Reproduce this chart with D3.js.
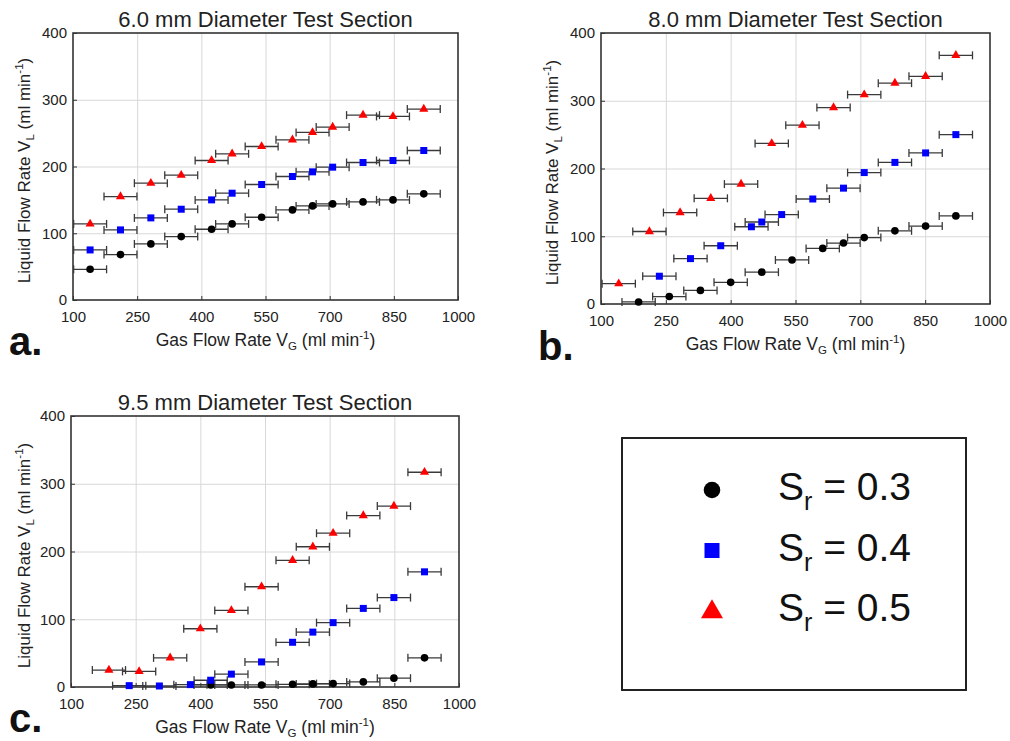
<!DOCTYPE html>
<html>
<head>
<meta charset="utf-8">
<script src="https://cdn.jsdelivr.net/npm/d3@7"></script>
<style>
  body { margin: 0; background: #fff; }
  svg { font-family: "Liberation Sans", Arial, Helvetica, sans-serif; }
</style>
</head>
<body>
<div id="chart"></div>
<script>
// tick values shared by all three panels
const xTicks = [100, 250, 400, 550, 700, 850, 1000];
const yTicks = [0, 100, 200, 300, 400];
const xError = 38.5; // half width of the horizontal error bars (ml/min)

// 6.0 mm test section
const a_x = [140, 211, 282, 353, 424, 472, 541, 613, 660, 707, 778, 848, 920];
const a_s03 = [46, 68, 84, 95, 106, 114, 124, 135, 141, 144, 147, 150, 159];
const a_s04 = [75, 105, 123, 136, 150, 160, 173, 185, 192, 199, 206, 209, 224];
const a_s05 = [114, 155, 175, 187, 209, 219, 230, 240, 251, 259, 277, 275, 286];

// 8.0 mm test section
const b_x03 = [187, 258, 330, 400, 472, 542, 613, 661, 709, 780, 851, 921];
const b_s03 = [3, 11, 20, 32, 47, 65, 82, 90, 98, 108, 115, 130];
const b_x04 = [235, 307, 377, 448, 472, 518, 590, 661, 709, 780, 851, 921];
const b_s04 = [41, 67, 86, 114, 121, 132, 155, 171, 194, 209, 223, 250];
const b_x05 = [141, 212, 283, 354, 424, 495, 566, 638, 709, 780, 851, 921];
const b_s05 = [30, 107, 135, 156, 177, 237, 264, 290, 309, 326, 336, 367];

// 9.5 mm test section
const c_x03 = [424, 472, 542, 614, 661, 708, 778, 849, 920];
const c_s03 = [3, 3, 3, 4, 4.5, 5, 7.5, 13, 43];
const c_x04 = [235, 305, 377, 424, 472, 542, 614, 661, 708, 778, 849, 920];
const c_s04 = [2, 1.5, 3.5, 10, 19, 37, 66, 81, 95, 116, 132, 170];
const c_x05 = [188, 258, 330, 400, 472, 542, 614, 661, 708, 778, 849, 920];
const c_s05 = [25, 23, 43, 86, 113, 148, 187, 207, 227, 253, 267, 317];

const legendLabels = ["0.3", "0.4", "0.5"];

const series = [
  { type: d3.symbolCircle, color: "#000000", size: 46, legendSize: 216 },
  { type: d3.symbolSquare, color: "#0000ff", size: 49, legendSize: 225 },
  { type: d3.symbolTriangle, color: "#ff0000", size: 36, legendSize: 210 },
];

const zip = (xs, ys) => xs.map((x, i) => ({ x: x, y: ys[i] }));

const panels = [
  {
    title: "6.0 mm Diameter Test Section", letter: "a.",
    left: 73, top: 33, right: 458, bottom: 300,
    letterX: 9, letterY: 355, yLabelX: 30,
    data: [zip(a_x, a_s03), zip(a_x, a_s04), zip(a_x, a_s05)],
  },
  {
    title: "8.0 mm Diameter Test Section", letter: "b.",
    left: 601, top: 33, right: 990, bottom: 304,
    letterX: 538, letterY: 360, yLabelX: 558,
    data: [zip(b_x03, b_s03), zip(b_x04, b_s04), zip(b_x05, b_s05)],
  },
  {
    title: "9.5 mm Diameter Test Section", letter: "c.",
    left: 71, top: 416, right: 459, bottom: 687,
    letterX: 9, letterY: 732, yLabelX: 30,
    data: [zip(c_x03, c_s03), zip(c_x04, c_s04), zip(c_x05, c_s05)],
  },
];

const svg = d3.select("#chart").append("svg")
  .attr("width", 1010)
  .attr("height", 741);

function drawPanel(p) {
  const x = d3.scaleLinear().domain([100, 1000]).range([p.left, p.right]);
  const y = d3.scaleLinear().domain([0, 400]).range([p.bottom, p.top]);
  const w = p.right - p.left, h = p.bottom - p.top;
  const g = svg.append("g");

  // grid
  g.append("g")
    .attr("transform", `translate(0,${p.bottom})`)
    .call(d3.axisBottom(x).tickValues(xTicks.slice(1, -1)).tickSize(-h).tickFormat(""))
    .call((s) => s.select(".domain").remove())
    .selectAll("line").attr("stroke", "#d8d8d8").attr("stroke-width", 1);
  g.append("g")
    .attr("transform", `translate(${p.left},0)`)
    .call(d3.axisLeft(y).tickValues(yTicks.slice(1, -1)).tickSize(-w).tickFormat(""))
    .call((s) => s.select(".domain").remove())
    .selectAll("line").attr("stroke", "#d8d8d8").attr("stroke-width", 1);

  // axes with inward ticks
  const xAxis = g.append("g")
    .attr("transform", `translate(0,${p.bottom})`)
    .call(d3.axisBottom(x).tickValues(xTicks).tickFormat(d3.format("d"))
      .tickSizeInner(-4).tickSizeOuter(0).tickPadding(11));
  const yAxis = g.append("g")
    .attr("transform", `translate(${p.left},0)`)
    .call(d3.axisLeft(y).tickValues(yTicks).tickFormat(d3.format("d"))
      .tickSizeInner(-4).tickSizeOuter(0).tickPadding(6));
  [xAxis, yAxis].forEach((ax) => {
    ax.select(".domain").remove();
    ax.selectAll("line").attr("stroke", "#333");
    ax.selectAll("text").attr("font-size", 15).attr("fill", "#222")
      .attr("font-family", "'Liberation Sans', Arial, sans-serif");
  });

  // frame
  g.append("rect")
    .attr("x", p.left).attr("y", p.top)
    .attr("width", w).attr("height", h)
    .attr("fill", "none").attr("stroke", "#333").attr("stroke-width", 1.6);

  // title
  g.append("text")
    .attr("x", (p.left + p.right) / 2).attr("y", p.top - 6)
    .attr("text-anchor", "middle").attr("font-size", 22).attr("fill", "#222")
    .text(p.title);

  // x label
  const xl = g.append("text")
    .attr("x", (p.left + p.right) / 2).attr("y", p.bottom + 46)
    .attr("text-anchor", "middle").attr("font-size", 17.5).attr("fill", "#222");
  xl.append("tspan").text("Gas Flow Rate V");
  xl.append("tspan").attr("font-size", 11.5).attr("dy", 4).text("G");
  xl.append("tspan").attr("dy", -4).text(" (ml min");
  xl.append("tspan").attr("font-size", 11.5).attr("dy", -7).text("-1");
  xl.append("tspan").attr("dy", 7).text(")");

  // y label
  const yl = g.append("text")
    .attr("transform", `translate(${p.yLabelX},${(p.top + p.bottom) / 2 + 4}) rotate(-90)`)
    .attr("text-anchor", "middle").attr("font-size", 17).attr("fill", "#222");
  yl.append("tspan").text("Liquid Flow Rate V");
  yl.append("tspan").attr("font-size", 11.5).attr("dy", 4).text("L");
  yl.append("tspan").attr("dy", -4).text(" (ml min");
  yl.append("tspan").attr("font-size", 11.5).attr("dy", -7).text("-1");
  yl.append("tspan").attr("dy", 7).text(")");

  // panel letter
  g.append("text")
    .attr("x", p.letterX).attr("y", p.letterY)
    .attr("font-size", 40).attr("font-weight", "bold").attr("fill", "#111")
    .text(p.letter);

  // series: error bars then markers
  p.data.forEach((pts, i) => {
    const s = series[i];
    const sg = g.append("g");
    const bars = sg.selectAll(".err").data(pts).join("g").attr("class", "err")
      .attr("stroke", "#3a3a3a").attr("stroke-width", 1.3);
    bars.append("line")
      .attr("x1", (d) => x(d.x - xError)).attr("x2", (d) => x(d.x + xError))
      .attr("y1", (d) => y(d.y)).attr("y2", (d) => y(d.y));
    bars.append("line")
      .attr("x1", (d) => x(d.x - xError)).attr("x2", (d) => x(d.x - xError))
      .attr("y1", (d) => y(d.y) - 4).attr("y2", (d) => y(d.y) + 4);
    bars.append("line")
      .attr("x1", (d) => x(d.x + xError)).attr("x2", (d) => x(d.x + xError))
      .attr("y1", (d) => y(d.y) - 4).attr("y2", (d) => y(d.y) + 4);

    sg.selectAll(".mk").data(pts).join("path").attr("class", "mk")
      .attr("d", d3.symbol().type(s.type).size(s.size))
      .attr("transform", (d) => `translate(${x(d.x)},${y(d.y)})`)
      .attr("fill", s.color);
  });
}

panels.forEach(drawPanel);

// legend
const lg = svg.append("g");
lg.append("rect")
  .attr("x", 622).attr("y", 438).attr("width", 344).attr("height", 252)
  .attr("fill", "#fff").attr("stroke", "#222").attr("stroke-width", 2);

const ly = d3.scalePoint().domain(legendLabels).range([490, 611]);
legendLabels.forEach((lab, i) => {
  lg.append("path")
    .attr("d", d3.symbol().type(series[i].type).size(series[i].legendSize))
    .attr("transform", `translate(712,${ly(lab) + (i === 2 ? 1 : 0)})`)
    .attr("fill", series[i].color);
  const t = lg.append("text")
    .attr("x", 778).attr("y", ly(lab) + 10)
    .attr("font-size", 39).attr("fill", "#111");
  t.append("tspan").text("S");
  t.append("tspan").attr("font-size", 25).attr("dy", 10).text("r");
  t.append("tspan").attr("dy", -10).text(" = " + lab);
});
</script>
</body>
</html>
